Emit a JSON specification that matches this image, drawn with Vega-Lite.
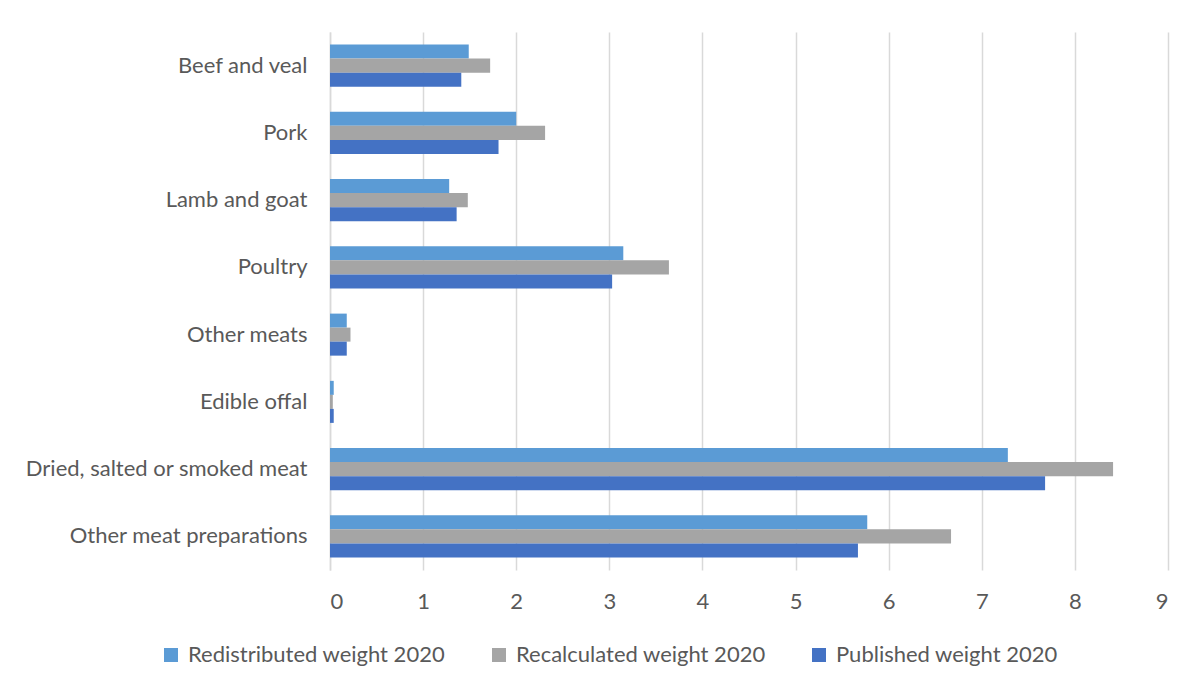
{
  "$schema": "https://vega.github.io/schema/vega-lite/v6.json",
  "autosize": "none",
  "width": 838,
  "height": 538,
  "padding": {"left": 330, "top": 32, "right": 36, "bottom": 123},
  "background": "white",
  "data": {
    "values": [
      {"category": "Beef and veal", "series": "Redistributed weight 2020", "value": 1.49},
      {"category": "Beef and veal", "series": "Recalculated weight 2020", "value": 1.72},
      {"category": "Beef and veal", "series": "Published weight 2020", "value": 1.41},
      {"category": "Pork", "series": "Redistributed weight 2020", "value": 2.0},
      {"category": "Pork", "series": "Recalculated weight 2020", "value": 2.31},
      {"category": "Pork", "series": "Published weight 2020", "value": 1.81},
      {"category": "Lamb and goat", "series": "Redistributed weight 2020", "value": 1.28},
      {"category": "Lamb and goat", "series": "Recalculated weight 2020", "value": 1.48},
      {"category": "Lamb and goat", "series": "Published weight 2020", "value": 1.36},
      {"category": "Poultry", "series": "Redistributed weight 2020", "value": 3.15},
      {"category": "Poultry", "series": "Recalculated weight 2020", "value": 3.64},
      {"category": "Poultry", "series": "Published weight 2020", "value": 3.03},
      {"category": "Other meats", "series": "Redistributed weight 2020", "value": 0.18},
      {"category": "Other meats", "series": "Recalculated weight 2020", "value": 0.22},
      {"category": "Other meats", "series": "Published weight 2020", "value": 0.18},
      {"category": "Edible offal", "series": "Redistributed weight 2020", "value": 0.04},
      {"category": "Edible offal", "series": "Recalculated weight 2020", "value": 0.03},
      {"category": "Edible offal", "series": "Published weight 2020", "value": 0.04},
      {"category": "Dried, salted or smoked meat", "series": "Redistributed weight 2020", "value": 7.28},
      {"category": "Dried, salted or smoked meat", "series": "Recalculated weight 2020", "value": 8.41},
      {"category": "Dried, salted or smoked meat", "series": "Published weight 2020", "value": 7.68},
      {"category": "Other meat preparations", "series": "Redistributed weight 2020", "value": 5.77},
      {"category": "Other meat preparations", "series": "Recalculated weight 2020", "value": 6.67},
      {"category": "Other meat preparations", "series": "Published weight 2020", "value": 5.67}
    ]
  },
  "mark": {"type": "bar"},
  "encoding": {
    "y": {
      "field": "category",
      "type": "nominal",
      "sort": ["Beef and veal", "Pork", "Lamb and goat", "Poultry", "Other meats", "Edible offal", "Dried, salted or smoked meat", "Other meat preparations"],
      "scale": {"paddingInner": 0.375, "paddingOuter": 0.1875},
      "axis": {
        "title": null,
        "ticks": false,
        "labelPadding": 23,
        "labelLimit": 0,
        "domainColor": "#d9d9d9",
        "domainWidth": 1.5,
        "labelFont": "Lato",
        "labelFontSize": 22,
        "labelColor": "#595959",
        "grid": false
      }
    },
    "yOffset": {
      "field": "series",
      "type": "nominal",
      "sort": ["Redistributed weight 2020", "Recalculated weight 2020", "Published weight 2020"]
    },
    "x": {
      "field": "value",
      "type": "quantitative",
      "scale": {"domain": [0, 9], "nice": false},
      "axis": {
        "title": null,
        "values": [0, 1, 2, 3, 4, 5, 6, 7, 8, 9],
        "ticks": false,
        "domain": false,
        "labelPadding": 21,
        "labelFont": "Lato",
        "labelFontSize": 22,
        "labelColor": "#595959",
        "gridColor": "#d9d9d9",
        "gridWidth": 1.5
      }
    },
    "color": {
      "field": "series",
      "type": "nominal",
      "sort": ["Redistributed weight 2020", "Recalculated weight 2020", "Published weight 2020"],
      "scale": {
        "domain": ["Redistributed weight 2020", "Recalculated weight 2020", "Published weight 2020"],
        "range": ["#5B9BD5", "#A5A5A5", "#4472C4"]
      },
      "legend": {
        "title": null,
        "orient": "none",
        "direction": "horizontal",
        "legendX": -170,
        "legendY": 612,
        "symbolType": "square",
        "symbolSize": 196,
        "symbolStrokeWidth": 0,
        "labelFont": "Lato",
        "labelFontSize": 22,
        "labelLimit": 0,
        "labelColor": "#595959",
        "labelOffset": 6,
        "columnPadding": 42
      }
    }
  },
  "config": {
    "view": {"stroke": null}
  }
}
